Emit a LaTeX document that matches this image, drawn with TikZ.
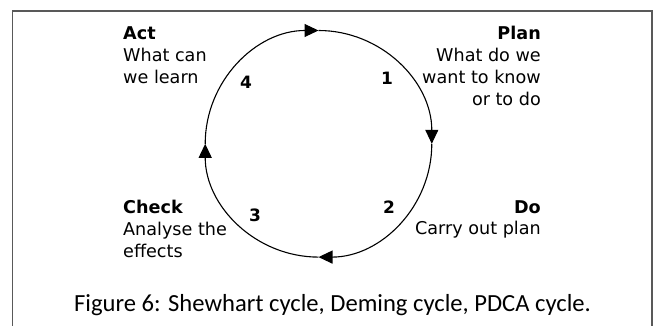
\documentclass[tikz,border=0pt]{standalone}
\usepackage{fontspec}
\setmainfont{DejaVu Sans}
\newfontfamily\capfont{Carlito}
\usetikzlibrary{arrows.meta,calc}
\tikzset{
  lbl/.style={inner sep=0pt, font=\fontsize{17.6}{21}\selectfont},
  hd/.style={inner sep=0pt, font=\fontsize{17.6}{21}\selectfont\bfseries},
  num/.style={inner sep=0pt, font=\fontsize{17}{20}\selectfont\bfseries},
  cyc/.style={line width=1.1pt, -{Triangle[length=14pt,width=13pt]}},
  frame/.style={draw=black!65, line width=1.5pt}
}
\begin{document}
\begin{tikzpicture}[x=1pt,y=1pt]
\useasboundingbox (0,0) rectangle (657,326);
\fill[white] (0,0) rectangle (657,326);
\draw[frame] (12.5,-10) -- (12.5,315) -- (652,315) -- (652,-10);
% cycle
\coordinate (c) at (318.5,182.2);
\coordinate (pl) at ($(c)+(180:113.3)$);
\coordinate (pt) at ($(c)+(90:113.3)$);
\coordinate (pr) at ($(c)+(0:113.3)$);
\coordinate (pb) at ($(c)+(270:113.3)$);
\draw[cyc] (pl) arc[start angle=180,end angle=90,radius=113.3];
\draw[cyc] (pt) arc[start angle=90,end angle=0,radius=113.3];
\draw[cyc] (pr) arc[start angle=0,end angle=-90,radius=113.3];
\draw[cyc] (pb) arc[start angle=-90,end angle=-180,radius=113.3];
% Act
\node[hd,anchor=base west] (act) at (123,286) {Act};
\node[lbl,anchor=base west] (act1) at (123,264) {What can};
\node[lbl,anchor=base west] (act2) at (123,242) {we learn};
\node[num,anchor=base west] (n4) at (240,237.5) {4};
% Plan
\node[hd,anchor=base east] (plan) at (541,286) {Plan};
\node[lbl,anchor=base east] (plan1) at (541,264) {What do we};
\node[lbl,anchor=base east] (plan2) at (541,242) {want to know};
\node[lbl,anchor=base east] (plan3) at (541,220) {or to do};
\node[num,anchor=base west] (n1) at (381,241.5) {1};
% Check
\node[hd,anchor=base west] (check) at (123,112.5) {Check};
\node[lbl,anchor=base west] (check1) at (123,90.5) {Analyse the};
\node[lbl,anchor=base west] (check2) at (123,68.5) {effects};
\node[num,anchor=base west] (n3) at (249,104.5) {3};
% Do
\node[hd,anchor=base east] (do) at (541,112.7) {Do};
\node[lbl,anchor=base east] (do1) at (541,91) {Carry out plan};
\node[num,anchor=base west] (n2) at (383,112.7) {2};
% caption
\node[inner sep=0pt,anchor=base,font=\capfont\fontsize{24.6}{28}\selectfont] (cap) at (332.5,14) {Figure 6: Shewhart cycle, Deming cycle, PDCA cycle.};
\end{tikzpicture}
\end{document}
